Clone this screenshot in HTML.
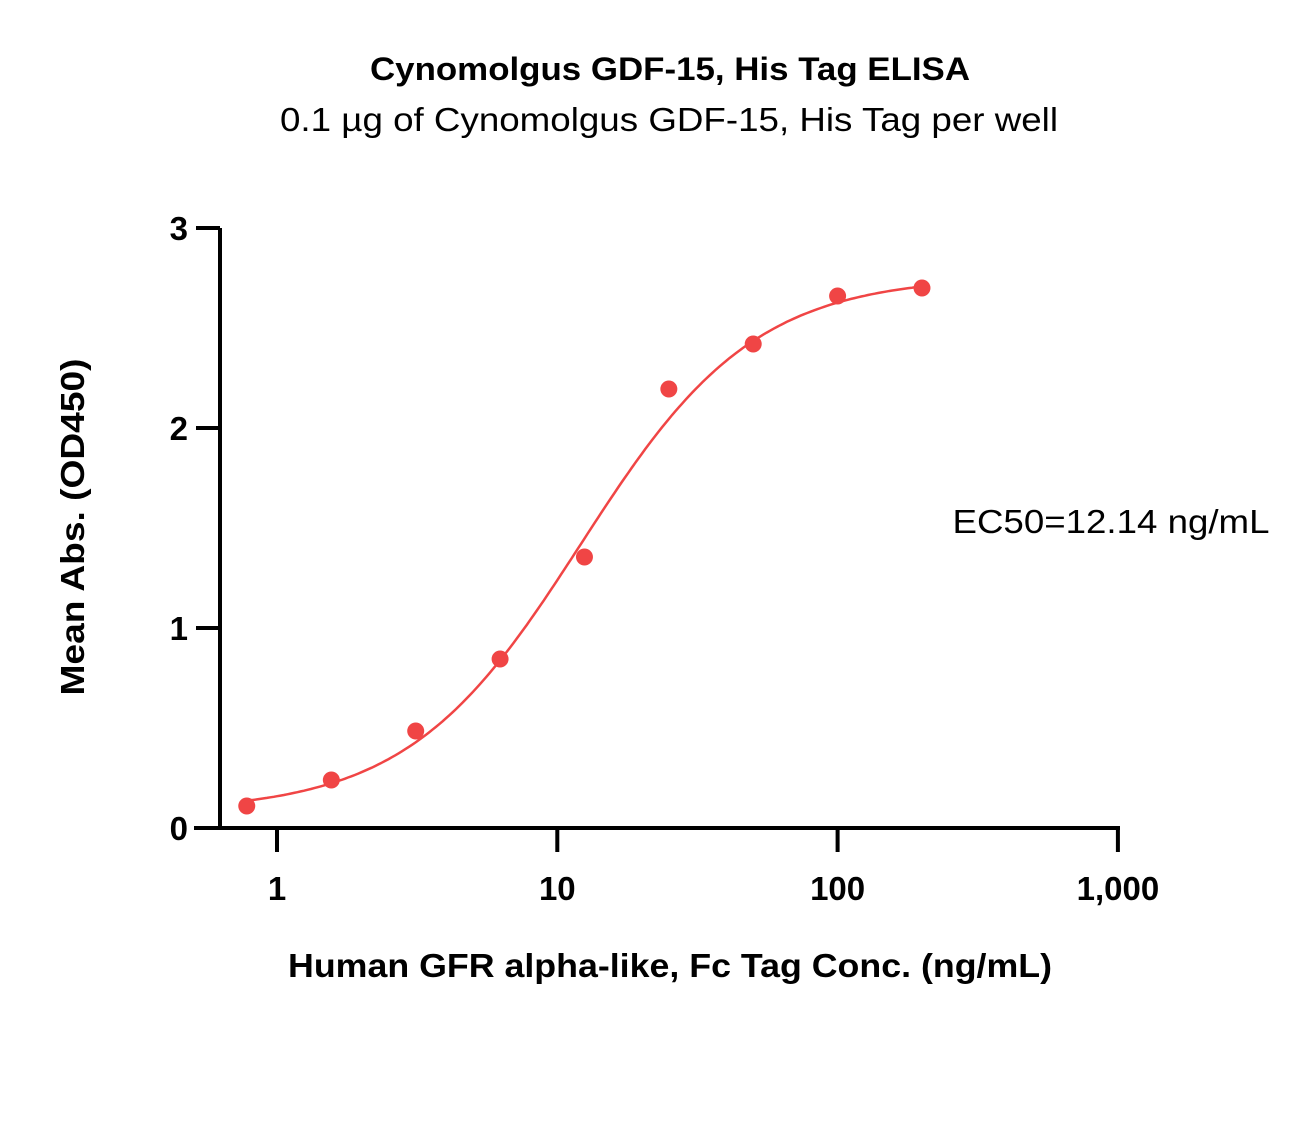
<!DOCTYPE html>
<html><head><meta charset="utf-8"><style>
body{margin:0;background:#fff;}
text{font-family:"Liberation Sans",sans-serif;}
</style></head><body>
<svg id="chart" width="1313" height="1134" xmlns="http://www.w3.org/2000/svg">
<text x="670" y="80" text-anchor="middle" font-size="32" font-weight="bold" textLength="600" lengthAdjust="spacingAndGlyphs">Cynomolgus GDF-15, His Tag ELISA</text>
<text x="669" y="131" text-anchor="middle" font-size="33" textLength="778" lengthAdjust="spacingAndGlyphs">0.1 µg of Cynomolgus GDF-15, His Tag per well</text>
<text x="1111" y="533" text-anchor="middle" font-size="33" textLength="317" lengthAdjust="spacingAndGlyphs">EC50=12.14 ng/mL</text>
<text x="670" y="977" text-anchor="middle" font-size="33" font-weight="bold" textLength="764" lengthAdjust="spacingAndGlyphs">Human GFR alpha-like, Fc Tag Conc. (ng/mL)</text>
<text transform="translate(84,527) rotate(-90)" text-anchor="middle" font-size="33" font-weight="bold" textLength="337" lengthAdjust="spacingAndGlyphs">Mean Abs. (OD450)</text>
<g id="axes"></g>
<g id="marks"></g>
</svg>
<script>
const xValues=[0.78,1.5625,3.125,6.25,12.5,25,50,100,200];
const yValues=[0.11,0.24,0.485,0.845,1.355,2.195,2.42,2.66,2.70];
const xTicks=[1,10,100,1000];
const xTickLabels=["1","10","100","1,000"];
const yTicks=[0,1,2,3];
const yTickLabels=["0","1","2","3"];
const fitBottom=0.08, fitTop=2.76, fitEC50=12.14, fitHill=1.4;

const NS="http://www.w3.org/2000/svg";
function X(v){return 277+280.3*Math.log10(v);}
function Y(v){return 828-200*v;}
function mk(tag,attrs,parent){const e=document.createElementNS(NS,tag);for(const k in attrs)e.setAttribute(k,attrs[k]);parent.appendChild(e);return e;}
const axes=document.getElementById('axes'),marks=document.getElementById('marks');
let e=mk('line',{x1:220,y1:Y(3),x2:220,y2:Y(0),stroke:'#000','stroke-width':4},axes);


e=mk('line',{x1:194,y1:Y(0),x2:1120,y2:Y(0),stroke:'#000','stroke-width':4},axes);


yTicks.forEach((t,i)=>{
 let l=mk('line',{x1:196,y1:Y(t),x2:220,y2:Y(t),stroke:'#000','stroke-width':4},axes);
 
 
 let tx=mk('text',{x:188,y:Y(t)+12,'text-anchor':'end','font-size':33,'font-weight':'bold'},axes);
 tx.textContent=yTickLabels[i];
 
 
});
xTicks.forEach((t,i)=>{
 let l=mk('line',{x1:X(t),y1:Y(0),x2:X(t),y2:Y(0)+24,stroke:'#000','stroke-width':4},axes);
 
 
 let tx=mk('text',{x:X(t),y:900,'text-anchor':'middle','font-size':33,'font-weight':'bold'},axes);
 tx.textContent=xTickLabels[i];
 
 
});
function fit(x){return fitBottom+(fitTop-fitBottom)/(1+Math.pow(fitEC50/x,fitHill));}
let d='';const lo=Math.log10(xValues[0]),hi=Math.log10(xValues[xValues.length-1]);
for(let i=0;i<=200;i++){const x=Math.pow(10,lo+(hi-lo)*i/200);d+=(i?'L':'M')+X(x).toFixed(1)+','+Y(fit(x)).toFixed(1);}
e=mk('path',{d:d,fill:'none',stroke:'#f04545','stroke-width':2.5},marks);


xValues.forEach((x,i)=>{
 let c=mk('circle',{cx:X(x),cy:Y(yValues[i]),r:8.5,fill:'#f04545'},marks);
 
 
});
</script>
</body></html>
